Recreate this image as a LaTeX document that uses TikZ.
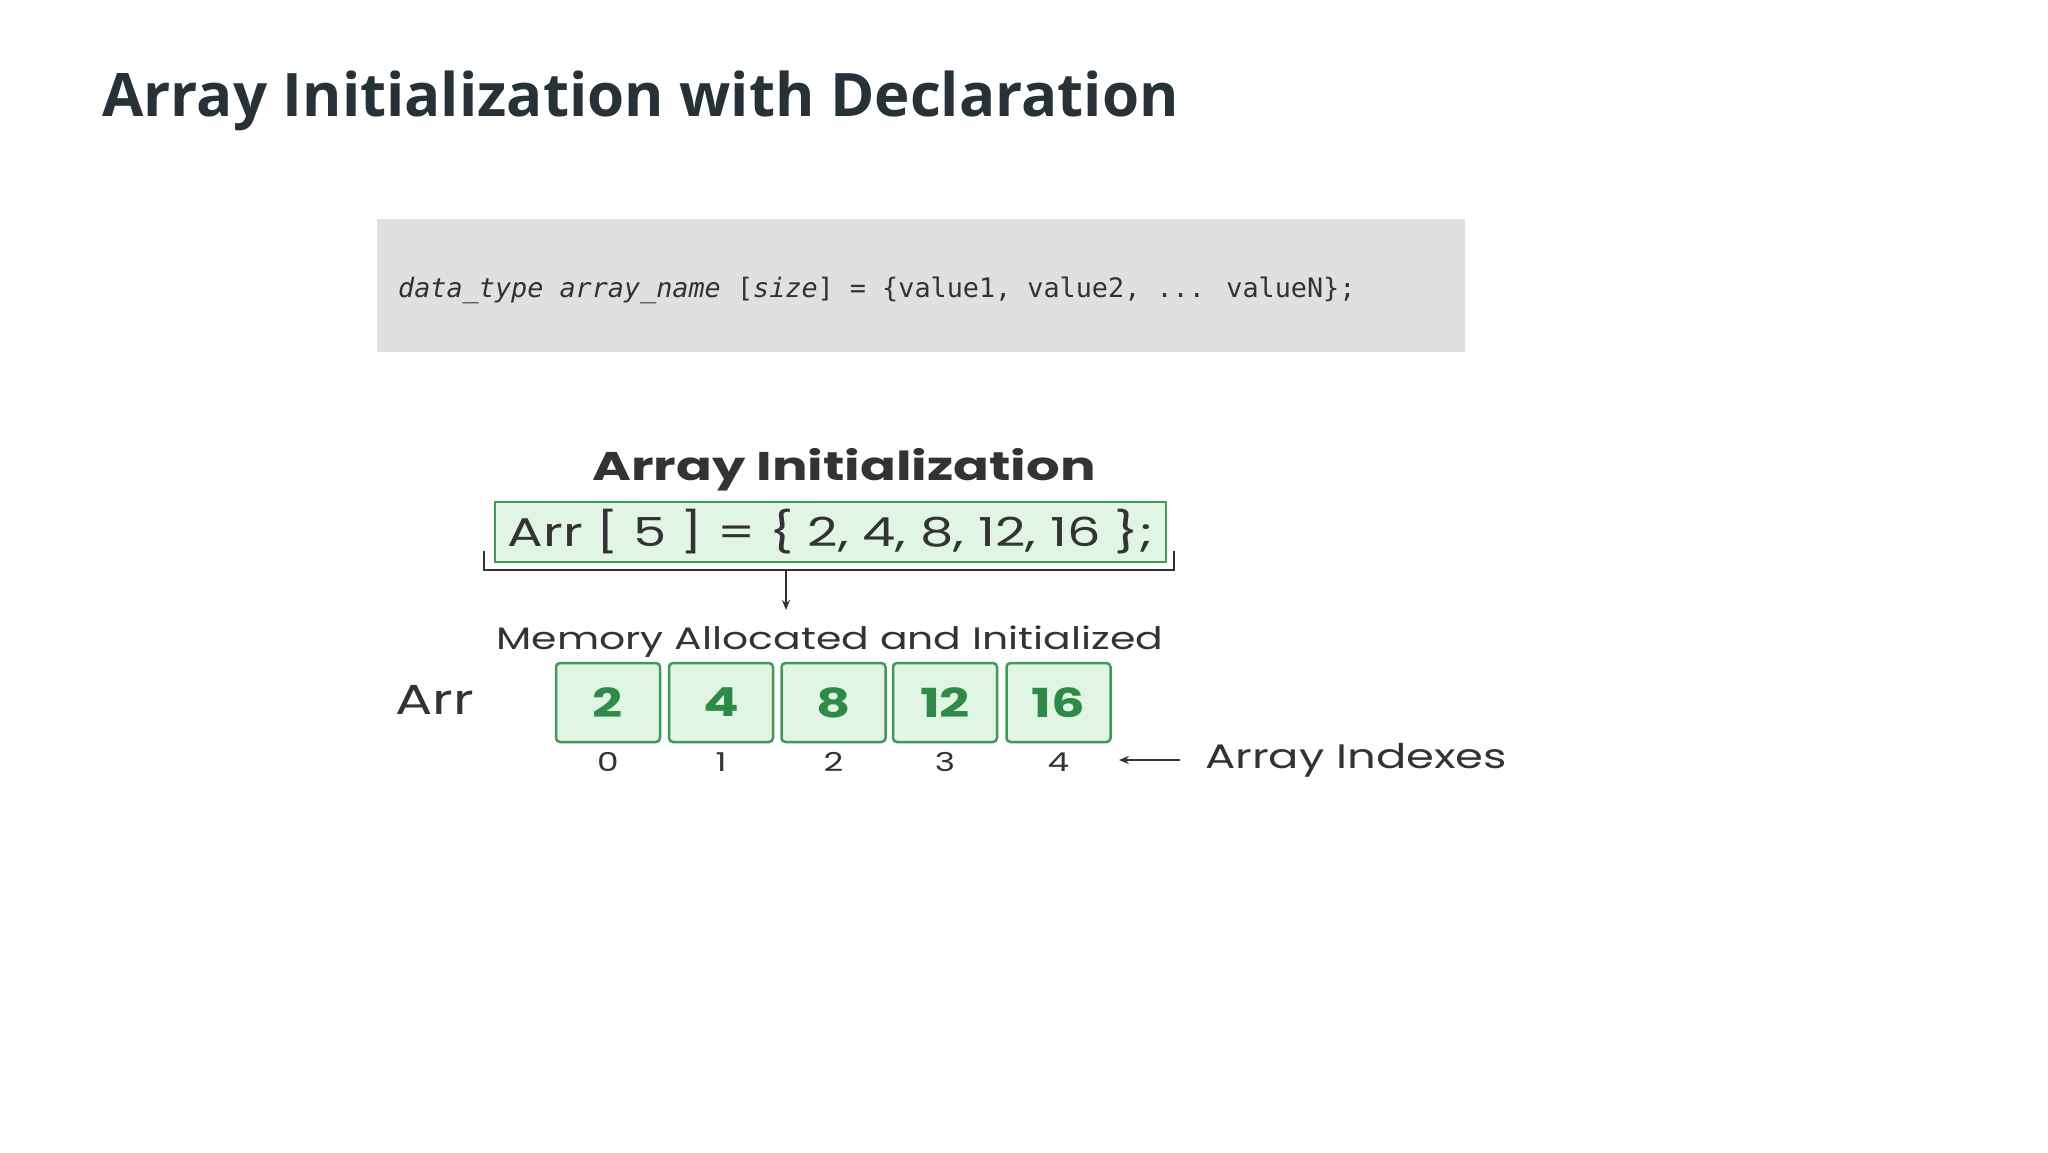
\documentclass[tikz,border=0pt]{standalone}
\usepackage{fontspec}
\setmainfont{Open Sans}
\newfontfamily\pop{Poppins}[FakeStretch=1.32]
\newfontfamily\cmono{DejaVu Sans Mono}
\usetikzlibrary{arrows.meta,calc}
\definecolor{ttl}{HTML}{263238}
\definecolor{codebg}{HTML}{E0E0E0}
\definecolor{gfill}{HTML}{E0F5E3}
\definecolor{gline}{HTML}{3E9A55}
\definecolor{gtext}{HTML}{2E8B47}
\definecolor{dtext}{HTML}{333333}
\begin{document}
\begin{tikzpicture}[x=1pt,y=-1pt,
  cell/.style={draw=gline,line width=2.5pt,fill=gfill,rounded corners=4pt,minimum width=104pt,minimum height=79pt,inner sep=0pt,font=\pop\bfseries\fontsize{40}{40}\selectfont,text=gtext},
  idx/.style={font=\pop\fontsize{26}{26}\selectfont,text=dtext},
  arr/.style={-{Stealth[length=10pt,width=8pt]},line width=2pt,draw=dtext}]
\useasboundingbox[fill=white] (0,0) rectangle (2048,1152);
\node[anchor=base west,inner sep=0pt,text=ttl,font=\bfseries\fontsize{60}{60}\selectfont] (title) at (102,116) {Array Initialization with Declaration};
\fill[codebg] (377,219) rectangle (1465,352);
\node[anchor=base west,inner sep=0pt,text=dtext,font=\cmono\fontsize{26.8}{28}\selectfont] (code) at (398,297) {\textit{data\_type array\_name} [\textit{size}] = \{value1, value2, ... valueN\};};
\node[anchor=base,inner sep=0pt,text=dtext,font=\pop\bfseries\fontsize{40}{40}\selectfont] (head) at (844,480) {Array Initialization};
\node[draw=gline,line width=2.5pt,fill=gfill,minimum width=671pt,minimum height=60pt,inner sep=0pt,text=dtext,font=\pop\fontsize{40}{40}\selectfont] (decl) at (830.5,532) {Arr [ 5 ] = \{ 2, 4, 8, 12, 16 \};};
\coordinate (bl) at (484,551); \coordinate (br) at (1174,551);
\draw[line width=2.5pt,draw=dtext] (bl) -- ++(0,19) -- ($(br)+(0,19)$) -- (br);
\coordinate (as) at (786,570); \coordinate (ae) at (786,610);
\draw[arr] (as) -- (ae);
\node[anchor=base,inner sep=0pt,text=dtext,font=\pop\fontsize{31}{31}\selectfont] (mem) at (830,649) {Memory Allocated and Initialized};
\node[anchor=west,inner sep=0pt,text=dtext,font=\pop\fontsize{42}{42}\selectfont] (arrl) at (395,700) {Arr};
\foreach \x/\v/\i [count=\k] in {608/2/0,721/4/1,833.5/8/2,945/12/3,1058.5/16/4}{
  \node[cell] (c\k) at (\x,702.5) {\v};
  \node[idx] (i\k) at (\x,762) {\i};
}
\coordinate (ia) at (1180,760); \coordinate (ib) at (1119,760);
\draw[arr] (ia) -- (ib);
\node[anchor=west,inner sep=0pt,text=dtext,font=\pop\fontsize{34}{34}\selectfont] (ix) at (1205,760) {Array Indexes};
\end{tikzpicture}
\end{document}
